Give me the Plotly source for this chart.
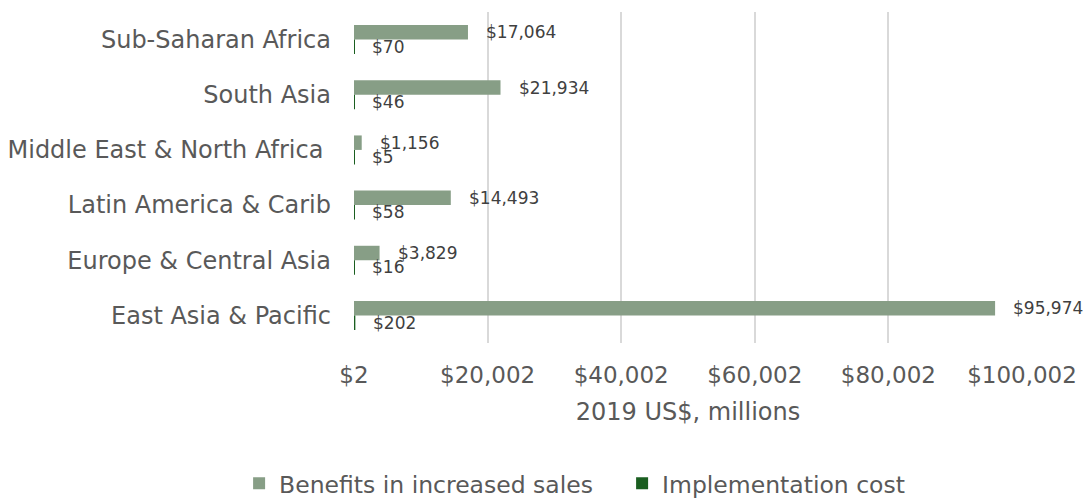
import plotly.graph_objects as go

regions = [
    "Sub-Saharan Africa",
    "South Asia",
    "Middle East & North Africa\u00a0",
    "Latin America & Carib",
    "Europe & Central Asia",
    "East Asia & Pacific",
]
benefits = [17064, 21934, 1156, 14493, 3829, 95974]
costs = [70, 46, 5, 58, 16, 202]
tick_vals = [2, 20002, 40002, 60002, 80002, 100002]
tick_text = ["$2", "$20,002", "$40,002", "$60,002", "$80,002", "$100,002"]

FONT = "DejaVu Sans"
BENEFIT_COLOR = "#879e86"
COST_COLOR = "#1a5e20"
BARGAP = 0.475

fig = go.Figure()
fig.add_trace(go.Bar(
    y=regions, x=benefits, orientation="h", name="Benefits in increased sales",
    marker=dict(color=BENEFIT_COLOR, line=dict(width=0)),
))
fig.add_trace(go.Bar(
    y=regions, x=costs, orientation="h", name="Implementation cost",
    marker=dict(color=COST_COLOR, line=dict(width=0)),
))

# value labels just past the end of each bar, centred on their bar
half = (1 - BARGAP) / 4
annotations = []
for i in range(len(regions)):
    for val, off in ((benefits[i], -half), (costs[i], half)):
        annotations.append(dict(
            x=val, y=i + off, xref="x", yref="y", text=f"${val:,}",
            showarrow=False, xanchor="left", yanchor="middle", xshift=16,
            font=dict(family=FONT, size=17, color="#404040"),
        ))

fig.update_layout(
    width=1087, height=499,
    margin=dict(l=354, r=65, t=12, b=156, autoexpand=False),
    paper_bgcolor="white", plot_bgcolor="white",
    barmode="group", bargap=BARGAP, bargroupgap=0,
    font=dict(family=FONT, color="#595959"),
    annotations=annotations,
    showlegend=True,
    legend=dict(
        orientation="h", x=-0.172, xanchor="left", y=-0.4247, yanchor="middle",
        font=dict(family=FONT, size=23.5, color="#595959"),
        itemwidth=30, entrywidth=338, entrywidthmode="pixels",
    ),
    xaxis=dict(
        range=[2, 100002], tickvals=tick_vals, ticktext=tick_text,
        showgrid=True, gridcolor="#d9d9d9", gridwidth=1.5,
        zeroline=False, showline=False, ticks="", automargin=True,
        tickfont=dict(family=FONT, size=23, color="#595959"),
        ticklabelstandoff=16,
        title=dict(text="2019 US$, millions", font=dict(family=FONT, size=24, color="#595959"), standoff=16),
    ),
    yaxis=dict(
        categoryorder="array", categoryarray=regions, autorange="reversed",
        showgrid=False, zeroline=False, showline=False, ticks="", automargin=True,
        tickfont=dict(family=FONT, size=24, color="#595959"),
        ticklabelstandoff=22,
    ),
)

fig.write_html("out.html")
